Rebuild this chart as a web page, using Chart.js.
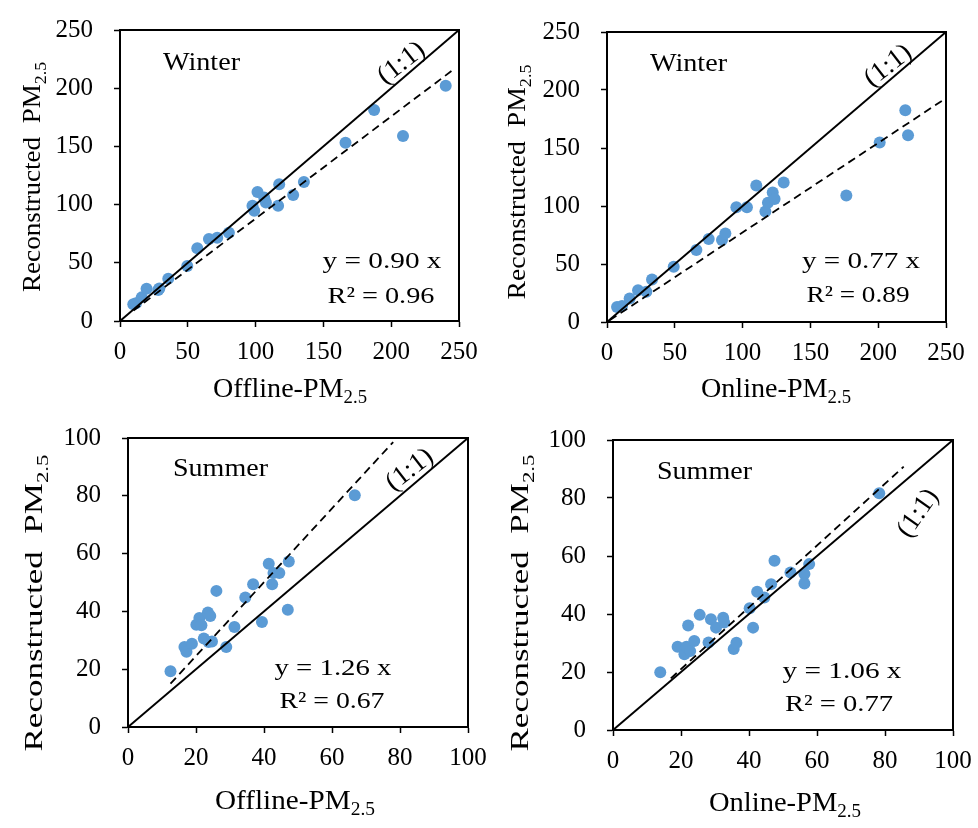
<!DOCTYPE html>
<html><head><meta charset="utf-8">
<script src="https://cdn.jsdelivr.net/npm/chart.js@4.4.1/dist/chart.umd.min.js"></script>
<style>
html,body{margin:0;padding:0;background:#fff;}
#wrap{position:relative;width:978px;height:828px;background:#fff;}
canvas{position:absolute;}
</style></head><body><div id="wrap">
<canvas id="c1" width="489" height="414" style="left:0;top:0"></canvas>
<canvas id="c2" width="489" height="414" style="left:489px;top:0"></canvas>
<canvas id="c3" width="489" height="414" style="left:0;top:414px"></canvas>
<canvas id="c4" width="489" height="414" style="left:489px;top:414px"></canvas>
</div>
<script>
// ---- data ----
const winterOfflineX = [9.8, 11.8, 16, 19.6, 28.2, 29, 35.6, 49.6, 57, 65.6, 71.7, 80.3, 97.7, 99, 101.4, 106.3, 107.6, 116.6, 117.4, 127.7, 135.6, 166.3, 187.4, 208.7, 240.2];
const winterOfflineY = [14.3, 15.2, 20.3, 27.8, 26.6, 28, 36.4, 47.2, 62.4, 70.4, 71.6, 75.9, 99.1, 94.8, 110.8, 106.2, 101.9, 99.1, 117.4, 108.2, 119.4, 153.2, 181.3, 158.9, 202.2];
const winterOnlineX = [7.4, 11.1, 16.7, 22.9, 29, 33.2, 49.2, 65.9, 75, 84.8, 87.3, 95.4, 103.2, 110.1, 116.8, 118.7, 122.2, 123.6, 130.3, 176.5, 201.1, 220, 222];
const winterOnlineY = [13, 13.8, 20.2, 27.4, 26, 36.6, 47.6, 62, 71.5, 70.6, 76.4, 98.9, 98.9, 117.6, 95.2, 102.9, 111.6, 106.1, 120.2, 109, 154.8, 182.5, 160.9];
const summerOfflineX = [12.5, 16.6, 17.2, 18.8, 20.1, 21, 21.6, 22.3, 23.5, 24.2, 23.7, 24.7, 26, 28.9, 31.3, 34.5, 36.8, 39.4, 41.4, 42.4, 42.8, 44.5, 47, 47.3, 66.7];
const summerOfflineY = [19.3, 27.7, 26, 28.8, 35.4, 37.7, 35.2, 30.6, 39.6, 38.4, 29.4, 29.6, 47.1, 27.7, 34.6, 44.8, 49.4, 36.3, 56.5, 49.4, 53.3, 53.3, 40.6, 57.3, 80.2];
const summerOnlineX = [13.9, 19, 21, 21.6, 22.1, 22.7, 23.9, 25.5, 28.1, 28.8, 30.3, 32.4, 32.7, 35.5, 36.3, 40.2, 41.2, 42.4, 44.5, 46.5, 47.5, 52.2, 56.3, 56.3, 57.7, 78.3];
const summerOnlineY = [19.9, 28.7, 26.1, 28.7, 36, 27.2, 30.7, 39.7, 30.2, 38.2, 35.3, 38.7, 37.1, 27.9, 30.1, 42, 35.3, 47.7, 45.7, 50.3, 58.4, 54.3, 53.8, 50.5, 57.2, 81.6];
// fitted (dashed) regression line end points
const trendWOffX = [10, 247];  const trendWOffY = [9, 217];
const trendWOnX  = [2, 250];   const trendWOnY  = [1.5, 193];
const trendSOffX = [12.5, 78]; const trendSOffY = [15, 98.6];
const trendSOnX  = [17, 85.5]; const trendSOnY  = [17.8, 90.8];
// axis ranges / ticks
const winterTicks = [0, 50, 100, 150, 200, 250];
const summerTicks = [0, 20, 40, 60, 80, 100];
// texts
const seasonLabels = ['Winter', 'Winter', 'Summer', 'Summer'];
const eqLabels = ['y = 0.90 x', 'y = 0.77 x', 'y = 1.26 x', 'y = 1.06 x'];
const r2Labels = ['R\u00B2 = 0.96', 'R\u00B2 = 0.89', 'R\u00B2 = 0.67', 'R\u00B2 = 0.77'];
const xTitles = ['Offline-PM', 'Online-PM', 'Offline-PM', 'Online-PM'];
const yTitle = 'Reconstructed  PM';
const subLabel = '2.5';
const oneOneLabel = '(1:1)';

// ---- layout (canvas-local pixel positions) ----
const FONT = '"Liberation Serif", "Times New Roman", serif';
const layouts = [
  {left:120, padR:30, top:30, xH:93,
   season:[163,70,77], eq:[382,268,119], r2:[381,303,107], oo:[207.7,221.4,-38],
   xt:[290,397,154], yt:[40,177,230]},
  {left:118, padR:32, top:32, xH:92,
   season:[161,71,77], eq:[372,268,118], r2:[369,302,103], oo:[207.4,220.7,-38],
   xt:[287,397,150], yt:[36,182,235]},
  {left:128, padR:21, top:24, xH:101,
   season:[173,62,95], eq:[333,261,117], r2:[332,294,105], oo:[82.9,88.9,-38],
   xt:[295,395,160], yt:[42,189,297]},
  {left:124, padR:25, top:26, xH:98,
   season:[168,65,95], eq:[353,264,119], r2:[350,297,108], oo:[89.8,74.7,-55],
   xt:[296,397,152], yt:[39,189,297]}
];

function fitText(ctx, s, x, y, size, align, targetW) {
  ctx.save();
  ctx.font = size + 'px ' + FONT;
  const w = ctx.measureText(s).width;
  const sx = targetW ? targetW / w : 1;
  const x0 = align === 'center' ? x - w * sx / 2 : x;
  ctx.translate(x0, y); ctx.scale(sx, 1);
  ctx.textAlign = 'left'; ctx.textBaseline = 'alphabetic'; ctx.fillStyle = '#000';
  ctx.fillText(s, 0, 0);
  ctx.restore();
}
function subText(ctx, main, sub, cx, cy, size, rot, targetLen) {
  ctx.save();
  ctx.translate(cx, cy); ctx.rotate(rot);
  ctx.font = size + 'px ' + FONT; const mw = ctx.measureText(main).width;
  const ss = Math.round(size * 0.66);
  ctx.font = ss + 'px ' + FONT; const sw = ctx.measureText(sub).width;
  const tot = mw + sw; const sx = targetLen ? targetLen / tot : 1;
  ctx.scale(sx, 1);
  ctx.textBaseline = 'alphabetic'; ctx.textAlign = 'left'; ctx.fillStyle = '#000';
  ctx.font = size + 'px ' + FONT; ctx.fillText(main, -tot / 2, 0);
  ctx.font = ss + 'px ' + FONT; ctx.fillText(sub, -tot / 2 + mw, size * 0.24);
  ctx.restore();
}

const decor = {
  id: 'decor',
  afterDraw(chart, args, opts) {
    const ctx = chart.ctx, a = chart.chartArea, i = opts.idx, L = layouts[i];
    ctx.save();
    ctx.strokeStyle = '#000'; ctx.lineWidth = 2;
    ctx.strokeRect(a.left, a.top, a.right - a.left, a.bottom - a.top);
    ctx.restore();
    fitText(ctx, seasonLabels[i], L.season[0], L.season[1], 25, 'left', L.season[2]);
    fitText(ctx, eqLabels[i], L.eq[0], L.eq[1], 23, 'center', L.eq[2]);
    fitText(ctx, r2Labels[i], L.r2[0], L.r2[1], 23, 'center', L.r2[2]);
    const px = chart.scales.x.getPixelForValue(L.oo[0]);
    const py = chart.scales.y.getPixelForValue(L.oo[1]);
    ctx.save();
    ctx.translate(px, py); ctx.rotate(L.oo[2] * Math.PI / 180);
    ctx.font = '27px ' + FONT; ctx.textAlign = 'center'; ctx.textBaseline = 'middle'; ctx.fillStyle = '#000';
    ctx.fillText(oneOneLabel, 0, 0);
    ctx.restore();
    subText(ctx, xTitles[i], subLabel, L.xt[0], L.xt[1], 27, 0, L.xt[2]);
    subText(ctx, yTitle, subLabel, L.yt[0], L.yt[1], 26, -Math.PI / 2, L.yt[2]);
  }
};

function pts(xs, ys) { return xs.map((x, k) => ({x: x, y: ys[k]})); }

function makeChart(id, idx, xs, ys, tx, ty, ticks) {
  const L = layouts[idx];
  const max = ticks[ticks.length - 1];
  const step = ticks[1] - ticks[0];
  const axis = (isX) => ({
    type: 'linear', min: ticks[0], max: max,
    afterBuildTicks: (s) => { s.ticks = ticks.map(v => ({value: v})); },
    ticks: { stepSize: step, color: '#000', font: {family: FONT, size: 25}, padding: isX ? 10 : 21, maxRotation: 0 },
    grid: { display: true, drawOnChartArea: false, drawTicks: true, tickLength: 6, tickColor: '#000', tickWidth: 1.5 },
    border: { display: true, color: '#000', width: 2 },
    title: { display: false },
    afterFit: (s) => {
      if (isX) { s.height = L.xH; } else { s.width = L.left; }
      s.paddingTop = 0; s.paddingBottom = 0; s.paddingLeft = 0; s.paddingRight = 0;
    }
  });
  return new Chart(document.getElementById(id), {
    type: 'scatter',
    data: { datasets: [
      { data: [{x: 0, y: 0}, {x: max, y: max}], showLine: true, borderColor: '#000', borderWidth: 2, pointRadius: 0, order: 1 },
      { data: pts(tx, ty), showLine: true, borderColor: '#000', borderWidth: 1.8, borderDash: [8, 5], pointRadius: 0, order: 1 },
      { data: pts(xs, ys), backgroundColor: '#5B9BD5', borderWidth: 0, pointRadius: 6, pointHoverRadius: 6, order: 2 }
    ]},
    options: {
      responsive: false, animation: false, devicePixelRatio: 1,
      layout: { padding: { left: 0, top: L.top, right: L.padR, bottom: 0 } },
      plugins: { legend: {display: false}, tooltip: {enabled: false}, decor: { idx: idx } },
      scales: { x: axis(true), y: axis(false) }
    },
    plugins: [decor]
  });
}

makeChart('c1', 0, winterOfflineX, winterOfflineY, trendWOffX, trendWOffY, winterTicks);
makeChart('c2', 1, winterOnlineX, winterOnlineY, trendWOnX, trendWOnY, winterTicks);
makeChart('c3', 2, summerOfflineX, summerOfflineY, trendSOffX, trendSOffY, summerTicks);
makeChart('c4', 3, summerOnlineX, summerOnlineY, trendSOnX, trendSOnY, summerTicks);
</script>
</body></html>
